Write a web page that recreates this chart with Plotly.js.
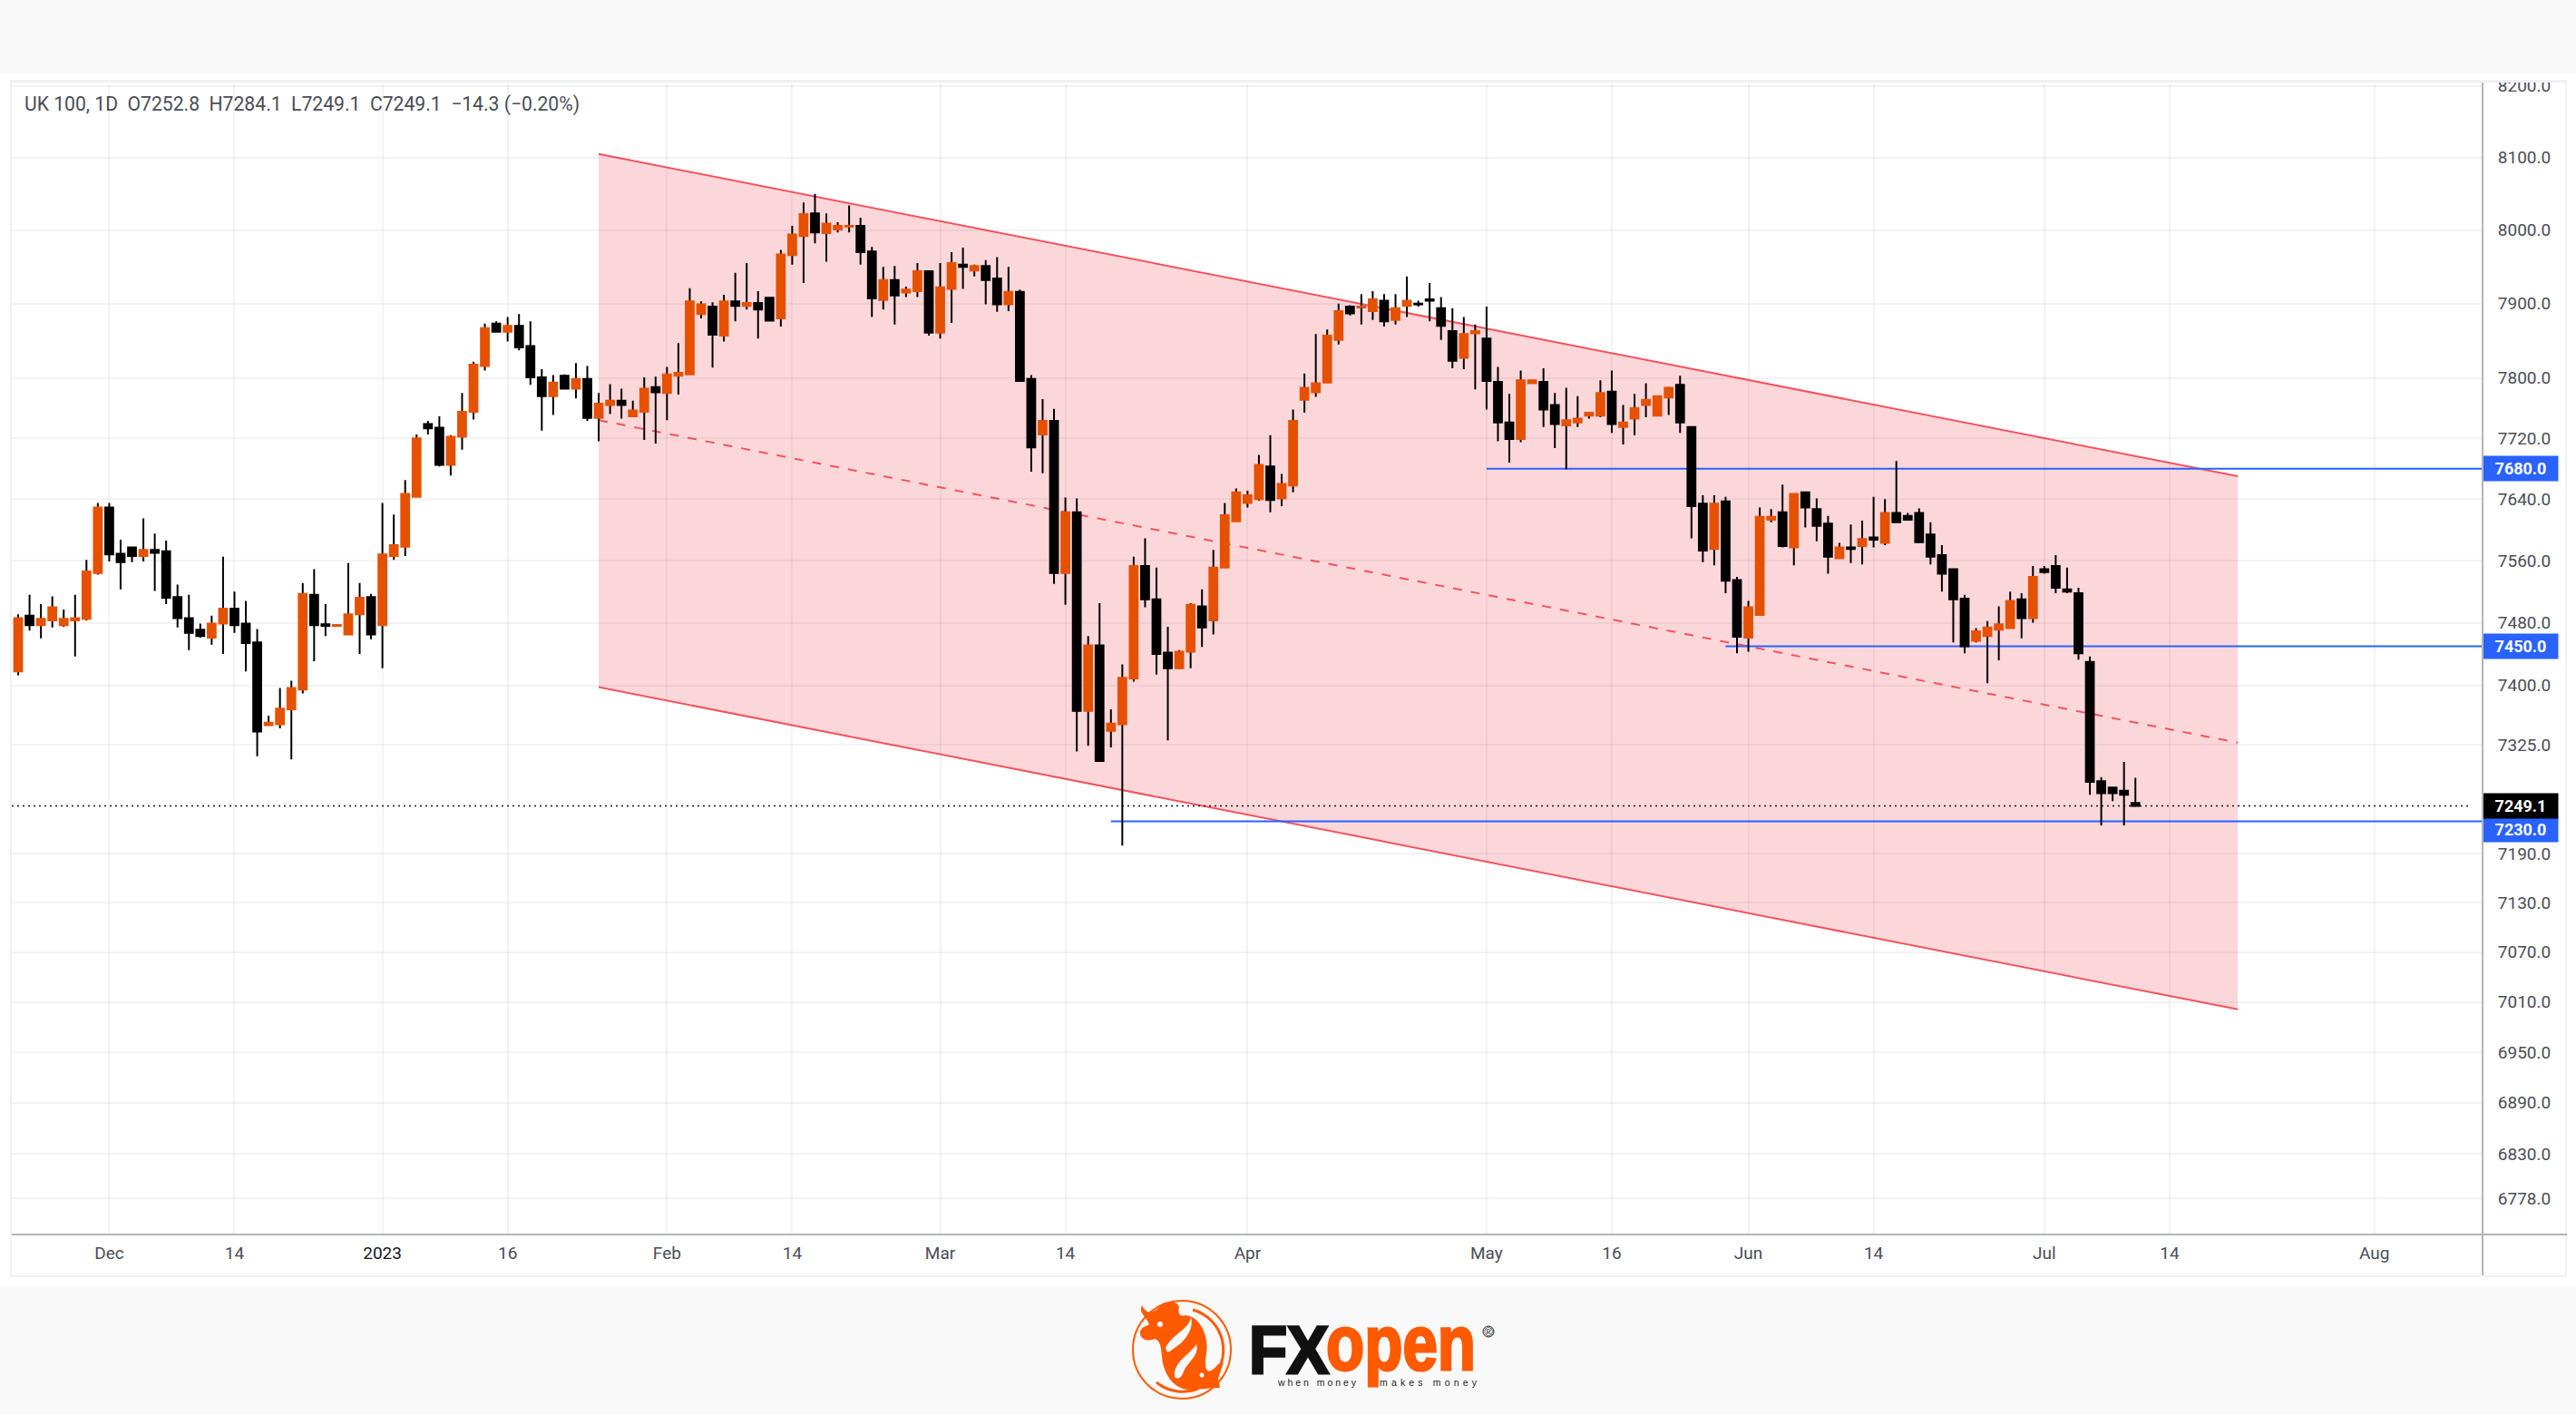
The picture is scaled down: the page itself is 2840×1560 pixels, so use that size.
<!DOCTYPE html>
<html>
<head>
<meta charset="utf-8">
<script src="https://cdn.plot.ly/plotly-3.0.1.min.js"></script>
<style>
html,body{margin:0;padding:0;width:2840px;height:1560px;background:#fff;overflow:hidden}
.abs{position:absolute}
#chart{position:absolute;left:0;top:0;width:2840px;height:1560px;z-index:2}
</style>
</head>
<body>
<div class="abs" style="left:0;top:0;width:2840px;height:81px;background:#f9f9f9;z-index:0"></div>
<div class="abs" style="left:0;top:1419px;width:2840px;height:141px;background:#f9f9f9;z-index:0"></div>
<div class="abs" style="left:11px;top:88px;width:2819px;height:1320px;border:2px solid #f0f1f6;box-sizing:border-box;z-index:1"></div>
<div id="chart"></div>
<div class="abs" style="left:0;top:81px;width:2840px;height:7px;background:#fff;z-index:3"></div>
<div class="abs" style="left:11px;top:88px;width:2819px;height:3px;background:#f0f1f6;z-index:3"></div>
<div class="abs" style="left:2736px;top:91px;width:2px;height:1315px;background:#b2b5be;z-index:3"></div>
<div class="abs" style="left:13px;top:1360px;width:2817px;height:2px;background:#b2b5be;z-index:3"></div>
<svg class="abs" style="left:0;top:1419px;z-index:3" width="2840" height="141" viewBox="0 1419 2840 141">
  <g transform="translate(1303,1488)" fill="#ff5a00">
    <circle r="54" fill="none" stroke="#ff5a00" stroke-width="2"/>
    <path d="M 12 -44 A 46 46 0 0 1 30 35" fill="none" stroke="#ff5a00" stroke-width="3"/>
    <path d="M -28 36 A 46 46 0 0 0 18 43" fill="none" stroke="#ff5a00" stroke-width="3"/>
    <path d="M -44 -49 C -40 -40 -34 -40 -28 -44 C -20 -52 -6 -56 -3 -47 C -5 -40 -2 -36 4 -38 C 22 -36 30 -12 27 4 C 24 24 28 30 40 16 L 46 14 L 40 32 L 42 42 C 30 42 20 44 12 44 C -6 46 -20 30 -22 8 C -23 -4 -24 -10 -30 -12 C -38 -8 -47 -12 -46 -20 C -44 -26 -38 -26 -36 -28 C -40 -38 -48 -40 -44 -49 Z"/>
    <path d="M -18 -2 C -10 -18 8 -22 10 -36 C 14 -22 2 -8 -8 -2 C -14 2 -16 6 -18 -2 Z" fill="#f9f9f9"/>
    <path d="M -8 30 C -10 14 8 6 16 -6 C 20 6 6 14 2 24 C 0 30 -4 34 -8 30 Z" fill="#f9f9f9"/>
    <circle cx="-24" cy="-28" r="3" fill="#f9f9f9"/>
    <circle cx="22" cy="28" r="2.5" fill="#f9f9f9"/>
  </g>
  <text x="1377" y="1514" font-family="Liberation Sans" font-weight="bold" font-size="74" fill="#111" stroke="#111" stroke-width="3" textLength="88" lengthAdjust="spacingAndGlyphs">FX</text>
  <text x="1462" y="1510" font-family="Liberation Sans" font-weight="bold" font-size="86" fill="#ff5a00" stroke="#ff5a00" stroke-width="3" textLength="165" lengthAdjust="spacingAndGlyphs">open</text>
  <text x="1409" y="1528" font-family="Liberation Sans" font-size="10.5" fill="#222" textLength="86">when money</text>
  <text x="1521" y="1528" font-family="Liberation Sans" font-size="10.5" fill="#222" textLength="107">makes money</text>
  <text x="1641" y="1473" font-family="Liberation Sans" font-size="13" fill="#222" text-anchor="middle">®</text>
  <circle cx="1641" cy="1468" r="6" fill="none" stroke="#222" stroke-width="1"/>
</svg>
<script>
const opens=[7418,7489,7477,7483,7477,7483,7485,7544,7629,7569,7577,7566,7574,7572,7513,7486,7471,7461,7479,7498,
7479,7455,7350,7351,7370,7395,7516,7478,7476,7465,7491,7513,7477,7566,7578,7643,7739,7734,7685,7722,
7755,7816,7873,7862,7870,7843,7801,7776,7803,7786,7799,7747,7764,7770,7749,7755,7788,7780,7803,7805,
7886,7896,7857,7903,7897,7901,7908,7880,7966,7992,8023,7996,8001,8005,8006,7971,7905,7932,7915,7917,
7944,7861,7920,7953,7945,7951,7934,7899,7916,7799,7725,7743,7544,7623,7368,7451,7343,7351,7409,7553,
7510,7442,7422,7443,7501,7483,7551,7611,7635,7640,7683,7641,7658,7771,7781,7794,7851,7896,7895,7890,
7904,7878,7897,7900,7906,7894,7863,7827,7860,7853,7795,7741,7719,7793,7795,7764,7737,7741,7750,7750,
7782,7735,7746,7764,7750,7774,7791,7735,7634,7575,7637,7535,7461,7490,7613,7623,7577,7649,7627,7608,
7563,7577,7579,7590,7583,7622,7618,7622,7594,7567,7549,7511,7457,7463,7471,7473,7510,7486,7549,7553,
7523,7518,7430,7280,7272,7268,7252.8];
const highs=[7491,7516,7504,7514,7497,7516,7561,7635,7635,7587,7577,7615,7595,7586,7529,7516,7479,7489,7565,7520,
7508,7472,7362,7397,7406,7531,7549,7504,7477,7557,7531,7517,7635,7620,7665,7725,7743,7749,7724,7780,
7822,7873,7876,7882,7886,7876,7812,7804,7805,7820,7816,7780,7792,7786,7770,7801,7802,7815,7847,7921,
7903,7902,7912,7942,7955,7917,7908,7973,8006,8038,8050,8023,8011,8034,8017,7977,7950,7951,7923,7955,
7945,7955,7970,7976,7953,7959,7963,7950,7919,7804,7772,7759,7642,7641,7463,7505,7370,7427,7565,7589,
7551,7475,7445,7505,7523,7574,7635,7654,7651,7698,7724,7673,7758,7806,7859,7865,7900,7898,7913,7917,
7913,7913,7937,7904,7928,7909,7894,7882,7872,7896,7815,7779,7810,7797,7813,7780,7787,7776,7754,7797,
7810,7764,7779,7793,7776,7788,7803,7735,7645,7645,7643,7539,7508,7629,7627,7659,7647,7649,7641,7618,
7583,7607,7612,7643,7640,7690,7622,7628,7610,7580,7549,7516,7473,7482,7501,7520,7518,7553,7553,7567,
7551,7525,7437,7285,7272,7304,7284.1];
const lows=[7413,7470,7460,7474,7475,7437,7483,7542,7559,7523,7558,7559,7521,7504,7474,7445,7461,7452,7440,7467,
7418,7311,7350,7346,7307,7390,7431,7463,7476,7465,7440,7459,7422,7561,7566,7643,7725,7683,7671,7705,
7745,7810,7862,7849,7837,7791,7730,7751,7786,7773,7743,7716,7752,7746,7749,7718,7713,7744,7778,7805,
7880,7814,7849,7876,7892,7853,7877,7869,7953,7928,7982,7957,7997,7997,7953,7882,7892,7872,7909,7909,
7857,7853,7874,7920,7937,7899,7889,7890,7795,7676,7674,7530,7503,7317,7324,7304,7322,7200,7405,7500,
7414,7331,7421,7422,7449,7465,7551,7611,7629,7638,7623,7631,7649,7754,7775,7794,7845,7884,7872,7878,
7869,7872,7882,7896,7876,7851,7813,7812,7785,7758,7716,7688,7715,7793,7735,7707,7679,7735,7746,7748,
7727,7712,7724,7748,7750,7751,7727,7589,7558,7554,7518,7441,7443,7490,7610,7577,7554,7603,7585,7543,
7563,7557,7555,7577,7580,7610,7613,7583,7555,7520,7455,7441,7455,7403,7432,7473,7460,7480,7543,7518,
7518,7433,7263,7225,7255,7225,7249.1];
const closes=[7486,7477,7485,7500,7485,7486,7546,7629,7568,7558,7566,7574,7570,7512,7486,7467,7463,7479,7498,7477,
7454,7342,7353,7371,7397,7517,7477,7476,7477,7491,7512,7465,7568,7580,7647,7720,7733,7685,7722,7755,
7818,7867,7862,7870,7841,7801,7776,7794,7786,7799,7747,7766,7770,7764,7757,7786,7781,7805,7807,7903,
7899,7858,7903,7897,7901,7892,7877,7967,7994,8022,7997,8009,8006,8006,7970,7907,7932,7911,7919,7944,
7861,7922,7955,7950,7951,7932,7899,7916,7796,7708,7743,7544,7623,7368,7451,7305,7352,7410,7553,7510,
7440,7422,7443,7503,7474,7551,7619,7649,7645,7685,7639,7660,7743,7787,7793,7857,7890,7887,7896,7906,
7876,7894,7904,7899,7904,7870,7823,7859,7863,7796,7741,7719,7797,7797,7758,7739,7744,7746,7754,7780,
7739,7741,7760,7771,7776,7787,7741,7631,7573,7634,7534,7462,7500,7617,7617,7579,7647,7629,7605,7565,
7577,7575,7588,7587,7622,7610,7613,7584,7565,7543,7510,7450,7469,7474,7478,7508,7486,7539,7545,7525,
7520,7441,7279,7265,7265,7263,7249.1];

const tickBars=[8,19,32,43,57,68,81,92,108,129,140,152,163,178,189,207];
const tickLabels=['Dec','14','<span style="color:#131722">2023</span>','16','Feb','14','Mar','14','Apr','May','16','Jun','14','Jul','14','Aug'];
const priceTicks=[8200,8100,8000,7900,7800,7720,7640,7560,7480,7400,7325,7190,7130,7070,7010,6950,6890,6830,6778];

const channelBars=[51,195];
const channelUpper=[8105,7670];
const channelMiddle=[7744,7328];
const channelLower=[7398,7001];

const levelPrices=[7680,7450,7230];
const levelStartBars=[129,150,96];
const lastPrice=7249.1;
const xRange=[-0.56,216.5];
const yRange=[Math.log10(6736.3),Math.log10(8203.5)];

const bars=opens.map((_,i)=>i);
const ORANGE='#e65100',BLACK='#000000',PINK='#f7525f',BLUE='#2962ff',TXT='#4a4d57',GRID='rgba(40,50,90,0.06)';
const legendText='UK 100, 1D\u00a0\u00a0O7252.8\u00a0\u00a0H7284.1\u00a0\u00a0L7249.1\u00a0\u00a0C7249.1\u00a0\u00a0\u221214.3 (\u22120.20%)';

const wicks={type:'candlestick',x:bars,
  open:opens.map((o,i)=>(o+closes[i])/2),close:opens.map((o,i)=>(o+closes[i])/2),high:highs,low:lows,
  increasing:{line:{color:BLACK,width:2},fillcolor:BLACK},decreasing:{line:{color:BLACK,width:2},fillcolor:BLACK},
  whiskerwidth:0,hoverinfo:'skip',showlegend:false};
const bodies={type:'candlestick',x:bars,open:opens,close:closes,
  high:opens.map((o,i)=>Math.max(o,closes[i])),low:opens.map((o,i)=>Math.min(o,closes[i])),
  increasing:{line:{color:ORANGE,width:2},fillcolor:ORANGE},decreasing:{line:{color:BLACK,width:2},fillcolor:BLACK},
  whiskerwidth:0,showlegend:false};

const shapes=[];
shapes.push({type:'path',layer:'below',xref:'x',yref:'y',
  path:`M ${channelBars[0]} ${channelUpper[0]} L ${channelBars[1]} ${channelUpper[1]} L ${channelBars[1]} ${channelLower[1]} L ${channelBars[0]} ${channelLower[0]} Z`,
  fillcolor:'rgba(242,54,69,0.2)',line:{width:0}});
[[channelUpper,'solid'],[channelLower,'solid'],[channelMiddle,'dash']].forEach(([s,d])=>shapes.push({type:'line',layer:'below',xref:'x',yref:'y',
  x0:channelBars[0],x1:channelBars[1],y0:s[0],y1:s[1],line:{color:PINK,width:2,dash:d==='dash'?'10px,10px':'solid'}}));
levelPrices.forEach((p,i)=>shapes.push({type:'line',layer:'below',xref:'x',yref:'y',
  x0:levelStartBars[i],x1:xRange[1],y0:p,y1:p,line:{color:BLUE,width:2}}));
shapes.push({type:'line',layer:'below',xref:'x',yref:'y',x0:xRange[0],x1:xRange[1]-1,y0:lastPrice,y1:lastPrice,
  line:{color:'#131722',width:1.5,dash:'2px,4px'}});

function tag(price,label,bg,yshift){
  return {xref:'paper',x:1,xanchor:'left',yref:'y',y:Math.log10(price),yanchor:'middle',yshift:yshift,
    text:'<b>'+label+'</b>',showarrow:false,bgcolor:bg,width:82,height:27,align:'center',
    font:{family:'Roboto',size:18,color:'#ffffff'},borderpad:0};
}
const annotations=[tag(7680,'7680.0',BLUE,0),tag(7450,'7450.0',BLUE,0),tag(7230,'7230.0',BLUE,-9),tag(lastPrice,'7249.1',BLACK,0)];

const layout={
  width:2840,height:1560,paper_bgcolor:'rgba(0,0,0,0)',plot_bgcolor:'#ffffff',
  margin:{l:13,r:103,t:92,b:199,pad:0},showlegend:false,boxgap:0.3,boxgroupgap:0,
  title:{text:legendText,x:27/2840,xref:'container',xanchor:'left',y:1-115/1560,yanchor:'middle',yref:'container',
    font:{family:'Roboto',size:21.15,color:TXT}},
  xaxis:{type:'linear',range:xRange,tickmode:'array',tickvals:tickBars,ticktext:tickLabels,
    tickfont:{family:'Roboto',size:19,color:TXT},showgrid:true,gridcolor:GRID,gridwidth:2,zeroline:false,
    rangeslider:{visible:false},showline:false,ticks:'outside',ticklen:3,tickcolor:'rgba(0,0,0,0)'},
  yaxis:{type:'log',range:yRange,side:'right',tickmode:'array',tickvals:priceTicks,ticktext:priceTicks.map(v=>v.toFixed(1)),
    tickfont:{family:'Roboto',size:19,color:TXT},showgrid:true,gridcolor:GRID,gridwidth:2,zeroline:false,showline:false,
    ticks:'outside',ticklen:12,tickcolor:'rgba(0,0,0,0)'},
  shapes:shapes,annotations:annotations,hovermode:false
};
Plotly.newPlot('chart',[wicks,bodies],layout,{displayModeBar:false,staticPlot:true});
</script>
</body>
</html>
